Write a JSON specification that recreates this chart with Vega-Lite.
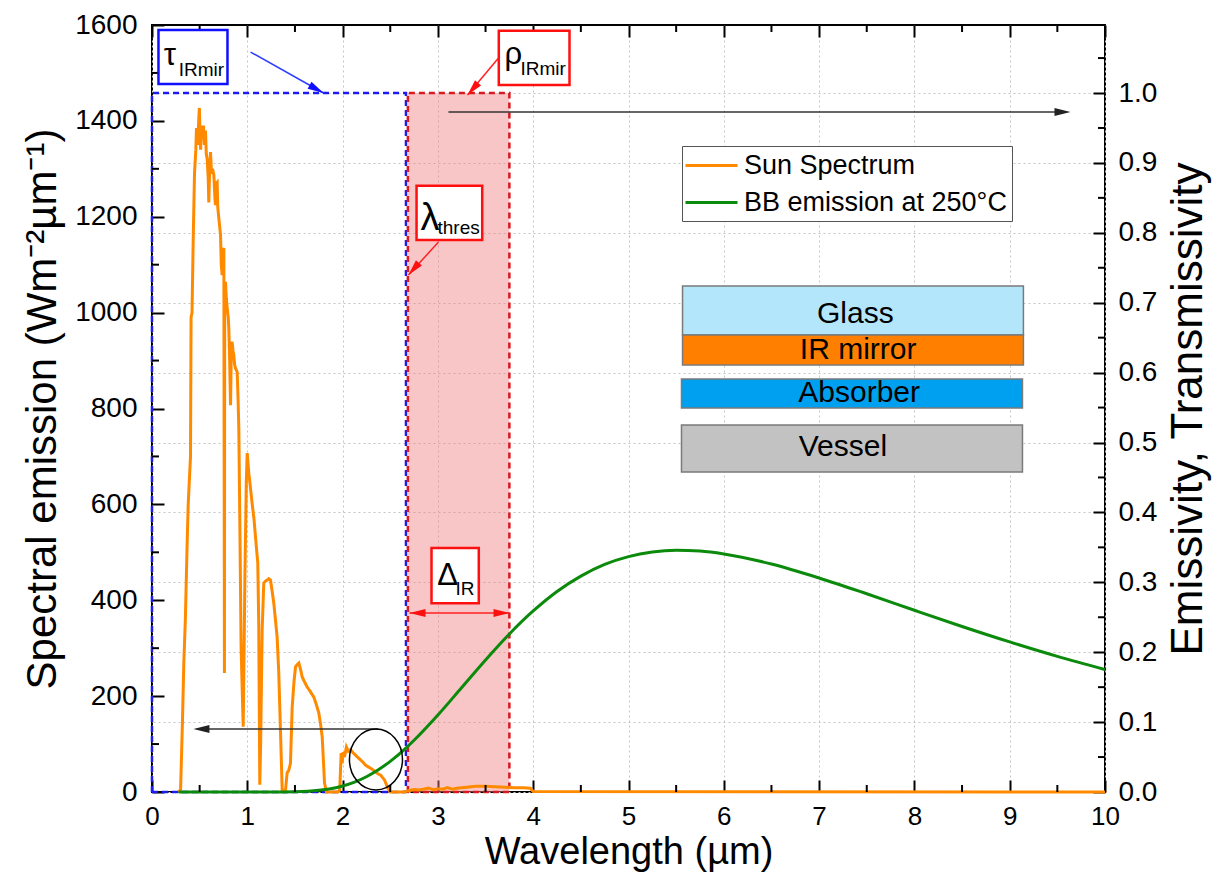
{
  "$schema": "https://vega.github.io/schema/vega-lite/v6.json",
  "width": 953,
  "height": 767,
  "autosize": {"type": "none"},
  "padding": {"left": 152, "top": 25, "right": 112, "bottom": 81},
  "background": "white",
  "config": {
    "font": "Liberation Sans",
    "view": {"stroke": "black", "strokeWidth": 2},
    "axis": {
      "labelFontSize": 28, "labelColor": "black", "labelFlush": false,
      "titleFontSize": 42, "titleFontWeight": "normal", "titleColor": "black",
      "tickColor": "black", "tickWidth": 2, "tickSize": -12,
      "domain": false,
      "gridColor": "#c4c4c4", "gridDash": [2, 3], "gridWidth": 1
    }
  },
  "datasets": {
    "sun": [
      {"l": 0.28, "v": 0}, {"l": 0.30, "v": 5}, {"l": 0.32, "v": 150}, {"l": 0.334, "v": 270},
      {"l": 0.35, "v": 360}, {"l": 0.369, "v": 520}, {"l": 0.38, "v": 600}, {"l": 0.404, "v": 700},
      {"l": 0.41, "v": 990}, {"l": 0.42, "v": 1000}, {"l": 0.432, "v": 1147}, {"l": 0.446, "v": 1290},
      {"l": 0.46, "v": 1340}, {"l": 0.467, "v": 1385}, {"l": 0.48, "v": 1350}, {"l": 0.49, "v": 1400},
      {"l": 0.497, "v": 1427}, {"l": 0.503, "v": 1380}, {"l": 0.51, "v": 1340}, {"l": 0.52, "v": 1390},
      {"l": 0.527, "v": 1370}, {"l": 0.54, "v": 1390}, {"l": 0.55, "v": 1350}, {"l": 0.561, "v": 1380},
      {"l": 0.57, "v": 1330}, {"l": 0.579, "v": 1320}, {"l": 0.59, "v": 1280}, {"l": 0.596, "v": 1230},
      {"l": 0.605, "v": 1300}, {"l": 0.614, "v": 1335}, {"l": 0.625, "v": 1290}, {"l": 0.635, "v": 1300},
      {"l": 0.649, "v": 1287}, {"l": 0.66, "v": 1240}, {"l": 0.666, "v": 1224}, {"l": 0.675, "v": 1270},
      {"l": 0.684, "v": 1272}, {"l": 0.69, "v": 1220}, {"l": 0.701, "v": 1197}, {"l": 0.71, "v": 1180},
      {"l": 0.719, "v": 1162}, {"l": 0.727, "v": 1100}, {"l": 0.736, "v": 1078}, {"l": 0.745, "v": 1130},
      {"l": 0.754, "v": 1135}, {"l": 0.76, "v": 248}, {"l": 0.763, "v": 1060}, {"l": 0.771, "v": 1064},
      {"l": 0.78, "v": 1030}, {"l": 0.789, "v": 1010}, {"l": 0.80, "v": 990}, {"l": 0.806, "v": 968},
      {"l": 0.815, "v": 900}, {"l": 0.824, "v": 807}, {"l": 0.833, "v": 930}, {"l": 0.841, "v": 939},
      {"l": 0.85, "v": 920}, {"l": 0.858, "v": 912}, {"l": 0.868, "v": 890}, {"l": 0.876, "v": 884},
      {"l": 0.885, "v": 880}, {"l": 0.894, "v": 876}, {"l": 0.903, "v": 820}, {"l": 0.911, "v": 759},
      {"l": 0.925, "v": 500}, {"l": 0.935, "v": 300}, {"l": 0.957, "v": 136}, {"l": 0.975, "v": 450},
      {"l": 0.99, "v": 650}, {"l": 0.999, "v": 707}, {"l": 1.016, "v": 665}, {"l": 1.03, "v": 640},
      {"l": 1.05, "v": 603}, {"l": 1.07, "v": 570}, {"l": 1.086, "v": 532}, {"l": 1.10, "v": 500},
      {"l": 1.11, "v": 478}, {"l": 1.12, "v": 350}, {"l": 1.131, "v": 15}, {"l": 1.14, "v": 100},
      {"l": 1.156, "v": 338}, {"l": 1.173, "v": 436}, {"l": 1.19, "v": 440}, {"l": 1.209, "v": 442},
      {"l": 1.225, "v": 445}, {"l": 1.243, "v": 442}, {"l": 1.26, "v": 420}, {"l": 1.278, "v": 394},
      {"l": 1.295, "v": 360}, {"l": 1.313, "v": 323}, {"l": 1.33, "v": 250}, {"l": 1.348, "v": 129},
      {"l": 1.366, "v": 4}, {"l": 1.40, "v": 2}, {"l": 1.418, "v": 40}, {"l": 1.435, "v": 45},
      {"l": 1.453, "v": 60}, {"l": 1.471, "v": 177}, {"l": 1.49, "v": 230}, {"l": 1.506, "v": 261},
      {"l": 1.52, "v": 265}, {"l": 1.541, "v": 269}, {"l": 1.56, "v": 255}, {"l": 1.576, "v": 240},
      {"l": 1.60, "v": 230}, {"l": 1.628, "v": 219}, {"l": 1.66, "v": 210}, {"l": 1.698, "v": 198},
      {"l": 1.72, "v": 185}, {"l": 1.75, "v": 165}, {"l": 1.77, "v": 140}, {"l": 1.786, "v": 115},
      {"l": 1.80, "v": 60}, {"l": 1.81, "v": 19}, {"l": 1.83, "v": 0}, {"l": 1.95, "v": 0},
      {"l": 1.97, "v": 4}, {"l": 1.985, "v": 81}, {"l": 1.995, "v": 60}, {"l": 2.006, "v": 83},
      {"l": 2.02, "v": 73}, {"l": 2.04, "v": 94}, {"l": 2.06, "v": 85}, {"l": 2.083, "v": 88},
      {"l": 2.11, "v": 82}, {"l": 2.135, "v": 77}, {"l": 2.16, "v": 72}, {"l": 2.188, "v": 67},
      {"l": 2.215, "v": 62}, {"l": 2.24, "v": 56}, {"l": 2.265, "v": 53}, {"l": 2.29, "v": 50},
      {"l": 2.32, "v": 46}, {"l": 2.345, "v": 42}, {"l": 2.37, "v": 38}, {"l": 2.40, "v": 35},
      {"l": 2.42, "v": 30}, {"l": 2.44, "v": 25}, {"l": 2.474, "v": 8}, {"l": 2.50, "v": 0},
      {"l": 2.65, "v": 0}, {"l": 2.70, "v": 3}, {"l": 2.75, "v": 5}, {"l": 2.80, "v": 4},
      {"l": 2.85, "v": 6}, {"l": 2.90, "v": 8}, {"l": 2.95, "v": 5}, {"l": 3.00, "v": 7},
      {"l": 3.05, "v": 6}, {"l": 3.10, "v": 9}, {"l": 3.15, "v": 6}, {"l": 3.20, "v": 8},
      {"l": 3.30, "v": 10}, {"l": 3.40, "v": 12}, {"l": 3.50, "v": 12}, {"l": 3.60, "v": 11},
      {"l": 3.70, "v": 10}, {"l": 3.80, "v": 9}, {"l": 3.90, "v": 9}, {"l": 3.97, "v": 8},
      {"l": 4.0, "v": 1}, {"l": 10.0, "v": 0}
    ],
    "bb": [
      {"l": 0.28, "v": 0}, {"l": 1.0, "v": 0}, {"l": 1.25, "v": 0.03}, {"l": 1.5, "v": 0.54},
      {"l": 1.75, "v": 3.41}, {"l": 1.875, "v": 6.89}, {"l": 2.0, "v": 12.48}, {"l": 2.125, "v": 20.66},
      {"l": 2.25, "v": 31.87}, {"l": 2.375, "v": 46.3}, {"l": 2.5, "v": 63.93}, {"l": 2.67, "v": 92.65},
      {"l": 2.75, "v": 107.9}, {"l": 3.0, "v": 160.6}, {"l": 3.25, "v": 218.0}, {"l": 3.5, "v": 275.6},
      {"l": 3.75, "v": 329.7}, {"l": 4.0, "v": 377.6}, {"l": 4.25, "v": 418.3}, {"l": 4.5, "v": 450.4},
      {"l": 4.75, "v": 474.7}, {"l": 5.0, "v": 491.0}, {"l": 5.25, "v": 500.5}, {"l": 5.5, "v": 504.1},
      {"l": 5.75, "v": 502.5}, {"l": 6.0, "v": 496.7}, {"l": 6.5, "v": 475.6}, {"l": 7.0, "v": 446.5},
      {"l": 7.5, "v": 413.5}, {"l": 8.0, "v": 379.1}, {"l": 8.5, "v": 345.3}, {"l": 9.0, "v": 313.1},
      {"l": 9.5, "v": 283.0}, {"l": 10.0, "v": 255.5}
    ],
    "tau": [
      {"i": 0, "l": 0, "e": 0}, {"i": 1, "l": 0, "e": 1}, {"i": 2, "l": 2.665, "e": 1},
      {"i": 3, "l": 2.665, "e": 0}, {"i": 4, "l": 0, "e": 0}
    ],
    "rho": [
      {"i": 0, "l": 2.685, "e": 0}, {"i": 1, "l": 2.685, "e": 1}, {"i": 2, "l": 3.75, "e": 1},
      {"i": 3, "l": 3.75, "e": 0}, {"i": 4, "l": 2.685, "e": 0}
    ],
    "band": [{"l": 2.685, "l2": 3.75, "e": 0, "e2": 1}],
    "minorX": [
      {"l": 0.5}, {"l": 1.5}, {"l": 2.5}, {"l": 3.5}, {"l": 4.5},
      {"l": 5.5}, {"l": 6.5}, {"l": 7.5}, {"l": 8.5}, {"l": 9.5}
    ],
    "minorL": [
      {"v": 100}, {"v": 300}, {"v": 500}, {"v": 700}, {"v": 900}, {"v": 1100}, {"v": 1300}, {"v": 1500}
    ],
    "minorR": [
      {"e": 0.05}, {"e": 0.15}, {"e": 0.25}, {"e": 0.35}, {"e": 0.45}, {"e": 0.55},
      {"e": 0.65}, {"e": 0.75}, {"e": 0.85}, {"e": 0.95}, {"e": 1.05}
    ],
    "stack": [
      {"name": "Glass", "l": 5.567, "l2": 9.144, "v": 953.3, "v2": 1055.5},
      {"name": "IR mirror", "l": 5.567, "l2": 9.144, "v": 890.7, "v2": 953.3},
      {"name": "Absorber", "l": 5.556, "l2": 9.134, "v": 801.0, "v2": 861.5},
      {"name": "Vessel", "l": 5.556, "l2": 9.134, "v": 667.5, "v2": 765.6}
    ],
    "stackLabels": [
      {"t": "Glass", "l": 7.38, "v": 997},
      {"t": "IR mirror", "l": 7.41, "v": 922},
      {"t": "Absorber", "l": 7.42, "v": 832},
      {"t": "Vessel", "l": 7.25, "v": 720}
    ],
    "boxBlue": [{"l": 0.068, "l2": 0.792, "v": 1476.9, "v2": 1589.5}],
    "boxRed": [
      {"l": 3.639, "l2": 4.381, "v": 1474.8, "v2": 1588},
      {"l": 2.776, "l2": 3.465, "v": 1151.5, "v2": 1264.7},
      {"l": 2.933, "l2": 3.429, "v": 393.6, "v2": 509}
    ],
    "greek": [
      {"t": "τ", "l": 0.124, "v": 1516.5},
      {"t": "ρ", "l": 3.699, "v": 1518.6},
      {"t": "Δ", "l": 2.992, "v": 431.8}
    ],
    "lambda": [{"t": "λ", "l": 2.817, "v": 1172}],
    "subs": [
      {"t": "IRmir", "l": 0.281, "v": 1493.6},
      {"t": "IRmir", "l": 3.867, "v": 1495.7},
      {"t": "thres", "l": 2.996, "v": 1164},
      {"t": "IR", "l": 3.185, "v": 411}
    ],
    "ruleBlack": [
      {"l": 3.111, "v": 1418.5, "l2": 9.6, "v2": 1418.5},
      {"l": 2.376, "v": 131.4, "l2": 0.47, "v2": 131.4}
    ],
    "ruleRed": [
      {"l": 3.636, "v": 1531, "l2": 3.311, "v2": 1454},
      {"l": 3.006, "v": 1147.3, "l2": 2.691, "v2": 1078.5},
      {"l": 2.702, "v": 373.4, "l2": 3.751, "v2": 373.4}
    ],
    "ruleBlue": [{"l": 1.034, "v": 1543.6, "l2": 1.8, "v2": 1458.1}],
    "headBlackRight": [{"l": 9.638, "v": 1418.5}],
    "headBlackLeft": [{"l": 0.435, "v": 131.4}],
    "headRedRight": [{"l": 3.751, "v": 373.4}],
    "headRedLeft": [{"l": 2.702, "v": 373.4}],
    "headRedDown": [{"l": 3.311, "v": 1454}, {"l": 2.691, "v": 1078.5}],
    "headBlue": [{"l": 1.8, "v": 1458.1}],
    "ellipse": [{"l": 2.35, "v": 67.8}]
  },
  "layer": [
    {
      "layer": [
        {
          "data": {"name": "band"},
          "mark": {"type": "rect", "color": "#f08080", "opacity": 0.45},
          "encoding": {
            "x": {"field": "l", "type": "quantitative", "scale": {"domain": [0, 10], "nice": false},
              "axis": {"orient": "top", "values": [0, 1, 2, 3, 4, 5, 6, 7, 8, 9, 10], "labels": false, "grid": false, "title": null}},
            "x2": {"field": "l2"},
            "y": {"field": "e", "type": "quantitative", "scale": {"domain": [0, 1.0973], "nice": false},
              "axis": {"orient": "right", "values": [0, 0.1, 0.2, 0.3, 0.4, 0.5, 0.6, 0.7, 0.8, 0.9, 1.0], "format": ".1f",
                "grid": true, "labelPadding": 25, "title": "Emissivity, Transmissivity", "titleFontSize": 44,
                "titleAngle": 270, "titleBaseline": "top", "titlePadding": 10}},
            "y2": {"field": "e2"}
          }
        },
        {
          "data": {"name": "tau"},
          "mark": {"type": "line", "color": "#1c1cf0", "strokeWidth": 2.5, "strokeDash": [6, 4]},
          "encoding": {
            "x": {"field": "l", "type": "quantitative"},
            "y": {"field": "e", "type": "quantitative"},
            "order": {"field": "i"}
          }
        },
        {
          "data": {"name": "rho"},
          "mark": {"type": "line", "color": "#d81920", "strokeWidth": 2.5, "strokeDash": [6, 4]},
          "encoding": {
            "x": {"field": "l", "type": "quantitative"},
            "y": {"field": "e", "type": "quantitative"},
            "order": {"field": "i"}
          }
        },
        {
          "data": {"name": "minorR"},
          "mark": {"type": "tick", "orient": "horizontal", "size": 7, "thickness": 2, "xOffset": -3.5, "color": "black", "opacity": 1},
          "encoding": {
            "x": {"datum": 10, "type": "quantitative"},
            "y": {"field": "e", "type": "quantitative"}
          }
        }
      ]
    },
    {
      "layer": [
        {
          "data": {"name": "sun"},
          "mark": {"type": "line", "strokeWidth": 3},
          "encoding": {
            "x": {"field": "l", "type": "quantitative", "scale": {"domain": [0, 10], "nice": false},
              "axis": {"orient": "bottom", "values": [0, 1, 2, 3, 4, 5, 6, 7, 8, 9, 10], "format": "d", "grid": true,
                "labelFontSize": 26, "labelPadding": 23,
                "title": "Wavelength (µm)", "titleFontSize": 38, "titlePadding": 4}},
            "y": {"field": "v", "type": "quantitative", "scale": {"domain": [0, 1600], "nice": false},
              "axis": {"orient": "left", "values": [0, 200, 400, 600, 800, 1000, 1200, 1400, 1600], "format": "d", "grid": false,
                "labelPadding": 27, "title": "Spectral emission (Wm⁻²µm⁻¹)", "titleFontSize": 42, "titlePadding": 10}},
            "color": {"datum": "Sun Spectrum", "type": "nominal",
              "scale": {"domain": ["Sun Spectrum", "BB emission at 250°C"], "range": ["#ff8a00", "#0b8a0b"]},
              "legend": {"orient": "none", "legendX": 530, "legendY": 121, "title": null,
                "symbolType": "M-2,0L2,0", "symbolSize": 676, "symbolStrokeWidth": 3, "symbolOffset": 10,
                "labelFontSize": 27, "labelOffset": 18, "rowPadding": 9, "padding": 5,
                "strokeColor": "#555555", "fillColor": "white", "labelLimit": 500, "labelColor": "black"}}
          }
        },
        {
          "data": {"name": "bb"},
          "mark": {"type": "line", "strokeWidth": 3, "interpolate": "monotone"},
          "encoding": {
            "x": {"field": "l", "type": "quantitative"},
            "y": {"field": "v", "type": "quantitative"},
            "color": {"datum": "BB emission at 250°C", "type": "nominal"}
          }
        },
        {
          "data": {"name": "minorX"},
          "mark": {"type": "tick", "orient": "vertical", "size": 7, "thickness": 2, "yOffset": -3.5, "color": "black", "opacity": 1},
          "encoding": {
            "x": {"field": "l", "type": "quantitative"},
            "y": {"datum": 0, "type": "quantitative"}
          }
        },
        {
          "data": {"name": "minorX"},
          "mark": {"type": "tick", "orient": "vertical", "size": 7, "thickness": 2, "yOffset": 3.5, "color": "black", "opacity": 1},
          "encoding": {
            "x": {"field": "l", "type": "quantitative"},
            "y": {"datum": 1600, "type": "quantitative"}
          }
        },
        {
          "data": {"name": "minorL"},
          "mark": {"type": "tick", "orient": "horizontal", "size": 7, "thickness": 2, "xOffset": 3.5, "color": "black", "opacity": 1},
          "encoding": {
            "x": {"datum": 0, "type": "quantitative"},
            "y": {"field": "v", "type": "quantitative"}
          }
        },
        {
          "data": {"name": "stack"},
          "mark": {"type": "rect", "stroke": "#7a7a7a", "strokeWidth": 1.5},
          "encoding": {
            "x": {"field": "l", "type": "quantitative"},
            "x2": {"field": "l2"},
            "y": {"field": "v", "type": "quantitative"},
            "y2": {"field": "v2"},
            "fill": {"field": "name", "type": "nominal", "legend": null,
              "scale": {"domain": ["Glass", "IR mirror", "Absorber", "Vessel"], "range": ["#b3e6fb", "#ff8000", "#00a0f0", "#c2c2c2"]}}
          }
        },
        {
          "data": {"name": "stackLabels"},
          "mark": {"type": "text", "fontSize": 30, "align": "center", "baseline": "middle", "color": "black"},
          "encoding": {
            "x": {"field": "l", "type": "quantitative"},
            "y": {"field": "v", "type": "quantitative"},
            "text": {"field": "t"}
          }
        },
        {
          "data": {"name": "boxBlue"},
          "mark": {"type": "rect", "fill": "white", "stroke": "#1010ff", "strokeWidth": 2.5},
          "encoding": {
            "x": {"field": "l", "type": "quantitative"},
            "x2": {"field": "l2"},
            "y": {"field": "v", "type": "quantitative"},
            "y2": {"field": "v2"}
          }
        },
        {
          "data": {"name": "boxRed"},
          "mark": {"type": "rect", "fill": "white", "stroke": "#ff1010", "strokeWidth": 2.5},
          "encoding": {
            "x": {"field": "l", "type": "quantitative"},
            "x2": {"field": "l2"},
            "y": {"field": "v", "type": "quantitative"},
            "y2": {"field": "v2"}
          }
        },
        {
          "data": {"name": "greek"},
          "mark": {"type": "text", "fontSize": 31, "align": "left", "baseline": "alphabetic", "color": "black"},
          "encoding": {
            "x": {"field": "l", "type": "quantitative"},
            "y": {"field": "v", "type": "quantitative"},
            "text": {"field": "t"}
          }
        },
        {
          "data": {"name": "lambda"},
          "mark": {"type": "text", "fontSize": 38, "align": "left", "baseline": "alphabetic", "color": "black"},
          "encoding": {
            "x": {"field": "l", "type": "quantitative"},
            "y": {"field": "v", "type": "quantitative"},
            "text": {"field": "t"}
          }
        },
        {
          "data": {"name": "subs"},
          "mark": {"type": "text", "fontSize": 19, "align": "left", "baseline": "alphabetic", "color": "black"},
          "encoding": {
            "x": {"field": "l", "type": "quantitative"},
            "y": {"field": "v", "type": "quantitative"},
            "text": {"field": "t"}
          }
        },
        {
          "data": {"name": "ruleBlack"},
          "mark": {"type": "rule", "color": "#333333", "strokeWidth": 1.5},
          "encoding": {
            "x": {"field": "l", "type": "quantitative"},
            "x2": {"field": "l2"},
            "y": {"field": "v", "type": "quantitative"},
            "y2": {"field": "v2"}
          }
        },
        {
          "data": {"name": "ruleRed"},
          "mark": {"type": "rule", "color": "#ff2020", "strokeWidth": 1.5},
          "encoding": {
            "x": {"field": "l", "type": "quantitative"},
            "x2": {"field": "l2"},
            "y": {"field": "v", "type": "quantitative"},
            "y2": {"field": "v2"}
          }
        },
        {
          "data": {"name": "ruleBlue"},
          "mark": {"type": "rule", "color": "#2b3cff", "strokeWidth": 1.5},
          "encoding": {
            "x": {"field": "l", "type": "quantitative"},
            "x2": {"field": "l2"},
            "y": {"field": "v", "type": "quantitative"},
            "y2": {"field": "v2"}
          }
        },
        {
          "data": {"name": "headBlackRight"},
          "mark": {"type": "point", "shape": "M0,0L-2,-0.5L-2,0.5Z", "size": 256, "filled": true, "color": "#222222", "opacity": 1, "angle": 0},
          "encoding": {
            "x": {"field": "l", "type": "quantitative"},
            "y": {"field": "v", "type": "quantitative"}
          }
        },
        {
          "data": {"name": "headBlackLeft"},
          "mark": {"type": "point", "shape": "M0,0L-2,-0.5L-2,0.5Z", "size": 256, "filled": true, "color": "#222222", "opacity": 1, "angle": 180},
          "encoding": {
            "x": {"field": "l", "type": "quantitative"},
            "y": {"field": "v", "type": "quantitative"}
          }
        },
        {
          "data": {"name": "headRedRight"},
          "mark": {"type": "point", "shape": "M0,0L-2,-0.5L-2,0.5Z", "size": 256, "filled": true, "color": "#ff1010", "opacity": 1, "angle": 0},
          "encoding": {
            "x": {"field": "l", "type": "quantitative"},
            "y": {"field": "v", "type": "quantitative"}
          }
        },
        {
          "data": {"name": "headRedLeft"},
          "mark": {"type": "point", "shape": "M0,0L-2,-0.5L-2,0.5Z", "size": 256, "filled": true, "color": "#ff1010", "opacity": 1, "angle": 180},
          "encoding": {
            "x": {"field": "l", "type": "quantitative"},
            "y": {"field": "v", "type": "quantitative"}
          }
        },
        {
          "data": {"name": "headRedDown"},
          "mark": {"type": "point", "shape": "M0,0L-2,-0.5L-2,0.5Z", "size": 256, "filled": true, "color": "#ff1010", "opacity": 1, "angle": 131},
          "encoding": {
            "x": {"field": "l", "type": "quantitative"},
            "y": {"field": "v", "type": "quantitative"}
          }
        },
        {
          "data": {"name": "headBlue"},
          "mark": {"type": "point", "shape": "M0,0L-2,-0.5L-2,0.5Z", "size": 256, "filled": true, "color": "#1010ff", "opacity": 1, "angle": 29},
          "encoding": {
            "x": {"field": "l", "type": "quantitative"},
            "y": {"field": "v", "type": "quantitative"}
          }
        },
        {
          "data": {"name": "ellipse"},
          "mark": {"type": "point", "shape": "M-0.87,0A0.87,1,0,1,0,0.87,0A0.87,1,0,1,0,-0.87,0Z", "size": 3721, "filled": false, "color": "black", "strokeWidth": 1.5, "opacity": 1},
          "encoding": {
            "x": {"field": "l", "type": "quantitative"},
            "y": {"field": "v", "type": "quantitative"}
          }
        }
      ]
    }
  ],
  "resolve": {"scale": {"y": "independent"}, "axis": {"x": "independent", "y": "independent"}}
}
